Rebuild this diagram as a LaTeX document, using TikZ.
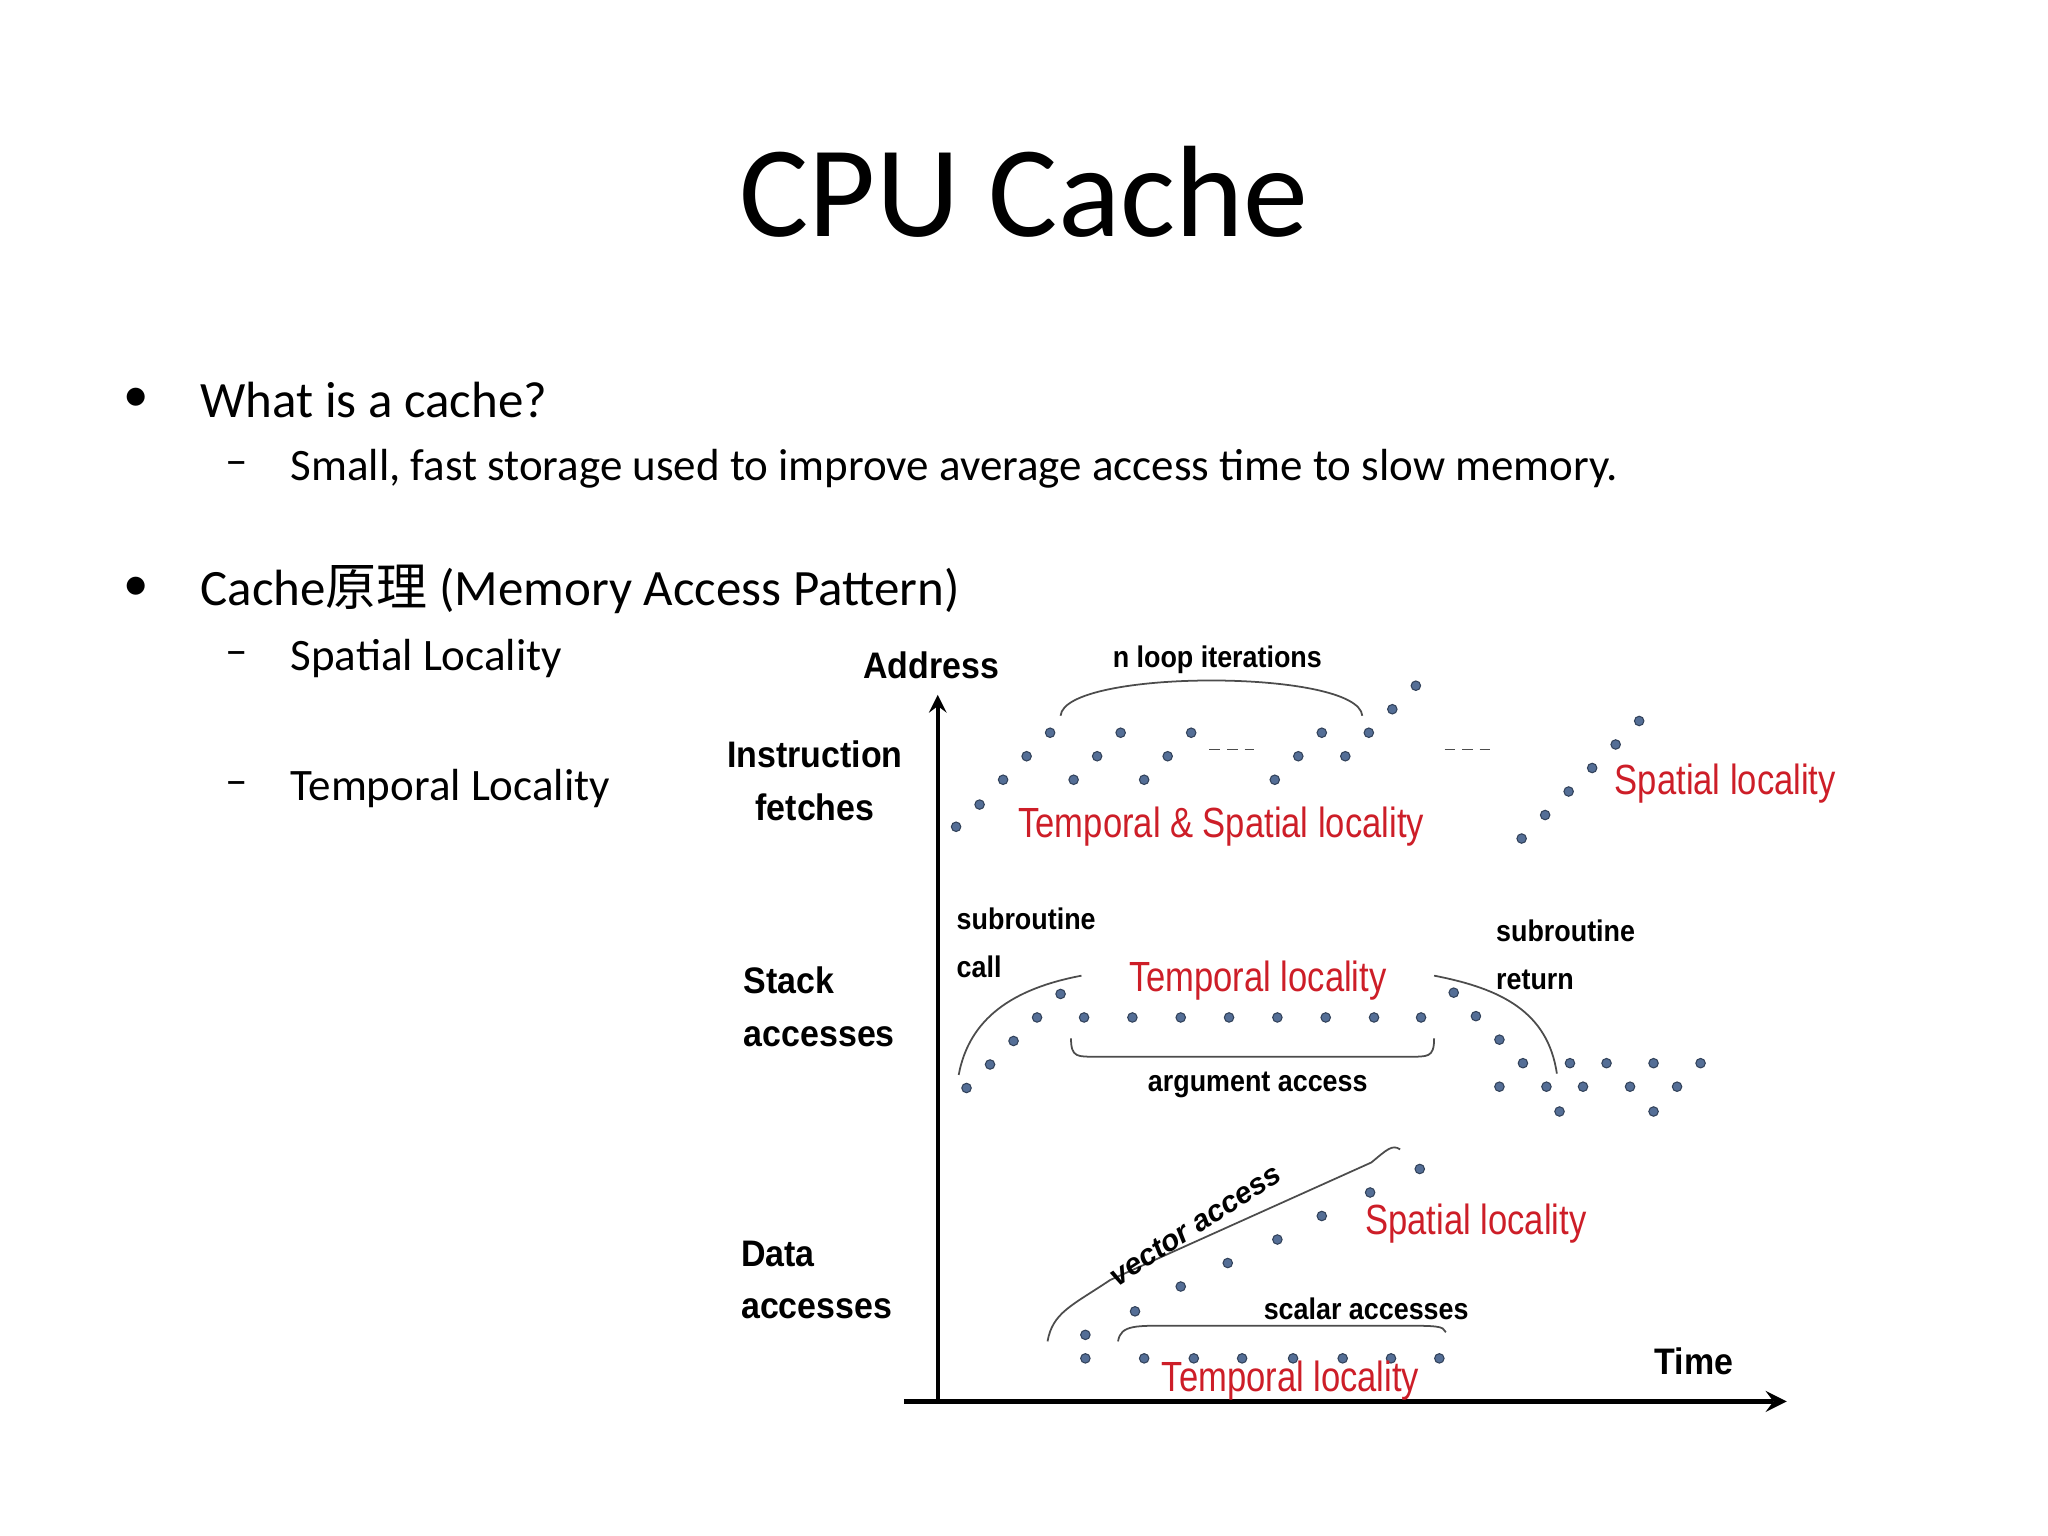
\documentclass[tikz,border=0pt]{standalone}
\usepackage{fontspec}
\setmainfont{Carlito}
\newfontfamily\arialf{Liberation Sans}
\newfontfamily\cjk{Noto Sans CJK SC}
\definecolor{dotblue}{RGB}{84,110,150}
\definecolor{locred}{RGB}{205,30,40}
\begin{document}
\begin{tikzpicture}[x=0.013061cm,y=-0.013061cm,
  dot/.style={circle,fill=dotblue,draw=dotblue!60!black,line width=0.3pt,inner sep=0pt,minimum size=2.7pt},
  lab/.style={font=\arialf\bfseries\fontsize{10.5}{13}\selectfont,align=left,inner sep=0pt,xscale=0.92},
  small/.style={font=\arialf\bfseries\fontsize{8.5}{10.5}\selectfont,align=left,inner sep=0pt,xscale=0.9},
  red/.style={font=\arialf\fontsize{12}{14}\selectfont,text=locred,inner sep=0pt,xscale=0.82},
  body/.style={anchor=west,inner sep=0pt},
  crv/.style={draw=black!70,line width=0.5pt}]
\useasboundingbox (0,0) rectangle (1568,1176);
% title and bullets
\node (title) at (784,147) {\fontsize{37}{44}\selectfont CPU Cache};
\node[body] (b1) at (94,306) {\fontsize{14.5}{17}\selectfont\textbullet};
\node[body] (t1) at (153,306) {\fontsize{14.5}{17}\selectfont What is a cache?};
\node[body] (d1) at (172,359) {\fontsize{12.8}{15}\selectfont –};
\node[body] (s1) at (222,359) {\fontsize{12.8}{15}\selectfont Small, fast storage used to improve average access time to slow memory.};
\node[body] (b2) at (94,451) {\fontsize{14.5}{17}\selectfont\textbullet};
\node[body] (t2) at (153,451) {\fontsize{14.5}{17}\selectfont Cache{\cjk 原理} (Memory Access Pattern)};
\node[body] (d2) at (172,504) {\fontsize{12.8}{15}\selectfont –};
\node[body] (s2) at (222,504) {\fontsize{12.8}{15}\selectfont Spatial Locality};
\node[body] (d3) at (172,604) {\fontsize{12.8}{15}\selectfont –};
\node[body] (s3) at (222,604) {\fontsize{12.8}{15}\selectfont Temporal Locality};
% axes
\coordinate (o) at (718,1073);
\coordinate (ytop) at (718,532);
\coordinate (xl) at (692,1073);
\coordinate (xr) at (1368,1073);
\draw[line width=1.2pt,-stealth] (o) -- (ytop);
\draw[line width=1.6pt,-stealth] (xl) -- (xr);
% axis and row labels
\node[lab] (addr) at (713,509) {Address};
\node[lab] (time) at (1297,1042) {Time};
\node[lab,align=center] (ifetch) at (624,598) {Instruction\\[2pt]fetches};
\node[lab,anchor=west] (stack) at (569,771) {Stack\\[2pt]accesses};
\node[lab,anchor=west] (data) at (567,980) {Data\\[2pt]accesses};
% instruction fetches
\foreach \x/\y [count=\i] in {732/633,750/616,768/597,786/579,804/561,822/597,840/579,858/561,876/597,894/579,912/561,976/597,994/579,1012/561,1030/579,1048/561,1066/543,1084/525,1165/642,1183/624,1201/606,1219/588,1237/570,1255/552}
  \node[dot] (i\i) at (\x,\y) {};
\draw[densely dashed,line width=0.4pt,black!70] (926,574) -- (960,574);
\draw[densely dashed,line width=0.4pt,black!70] (1106,574) -- (1142,574);
\coordinate (la) at (812,548);
\coordinate (lb) at (1043,548);
\draw[crv] (la) .. controls (815,512) and (1040,512) .. (lb);
\node[small] (nloop) at (932,505) {n loop iterations};
\node[red] (tsl) at (935,633) {Temporal \& Spatial locality};
\node[red] (sl1) at (1321,600) {Spatial locality};
% stack accesses
\foreach \x/\y [count=\i] in {740/833,758/815,776/797,794/779,812/761,830/779,867/779,904/779,941/779,978/779,1015/779,1052/779,1088/779,1113/760,1130/778,1148/796,1166/814,1148/832,1184/832,1194/851,1202/814,1212/832,1230/814,1248/832,1266/814,1266/851,1284/832,1302/814}
  \node[dot] (s\i) at (\x,\y) {};
\coordinate (ca) at (734,823);
\coordinate (cb) at (828,747);
\draw[crv] (ca) .. controls (742,780) and (775,757) .. (cb);
\coordinate (ra) at (1098,747);
\coordinate (rb) at (1192,822);
\draw[crv] (ra) .. controls (1150,757) and (1185,775) .. (rb);
\coordinate (aa) at (820,795);
\coordinate (ab) at (1098,795);
\draw[crv] (aa) .. controls (820,810) and (825,809) .. (840,809) -- (1078,809) .. controls (1093,809) and (1098,810) .. (ab);
\node[small,anchor=west] (sc) at (732,722) {subroutine\\[3pt]call};
\node[small,anchor=west] (sr) at (1145,731) {subroutine\\[3pt]return};
\node[red] (tl1) at (963,751) {Temporal locality};
\node[small] (arg) at (963,831) {argument access};
% data accesses
\foreach \x/\y [count=\i] in {831/1040,831/1022,869/1004,904/985,940/967,978/949,1012/931,1049/913,1087/895,876/1040,914/1040,951/1040,990/1040,1028/1040,1065/1040,1102/1040}
  \node[dot] (v\i) at (\x,\y) {};
\coordinate (va) at (802,1027);
\coordinate (vb) at (1072,880);
\draw[crv] (va) .. controls (806,1005) and (820,1000) .. (850,980) -- (1050,890) .. controls (1062,880) and (1066,876) .. (vb);
\coordinate (sa) at (856,1027);
\coordinate (sb) at (1107,1020);
\draw[crv] (sa) .. controls (858,1014) and (870,1015) .. (900,1015) -- (1070,1015) .. controls (1100,1015) and (1105,1015) .. (sb);
\node[font=\arialf\bfseries\itshape\fontsize{8.5}{10.5}\selectfont,inner sep=0pt,rotate=33] (vec) at (915,938) {vector access};
\node[red] (sl2) at (1130,937) {Spatial locality};
\node[small] (scal) at (1046,1002) {scalar accesses};
\node[red] (tl2) at (988,1057) {Temporal locality};
\end{tikzpicture}
\end{document}
